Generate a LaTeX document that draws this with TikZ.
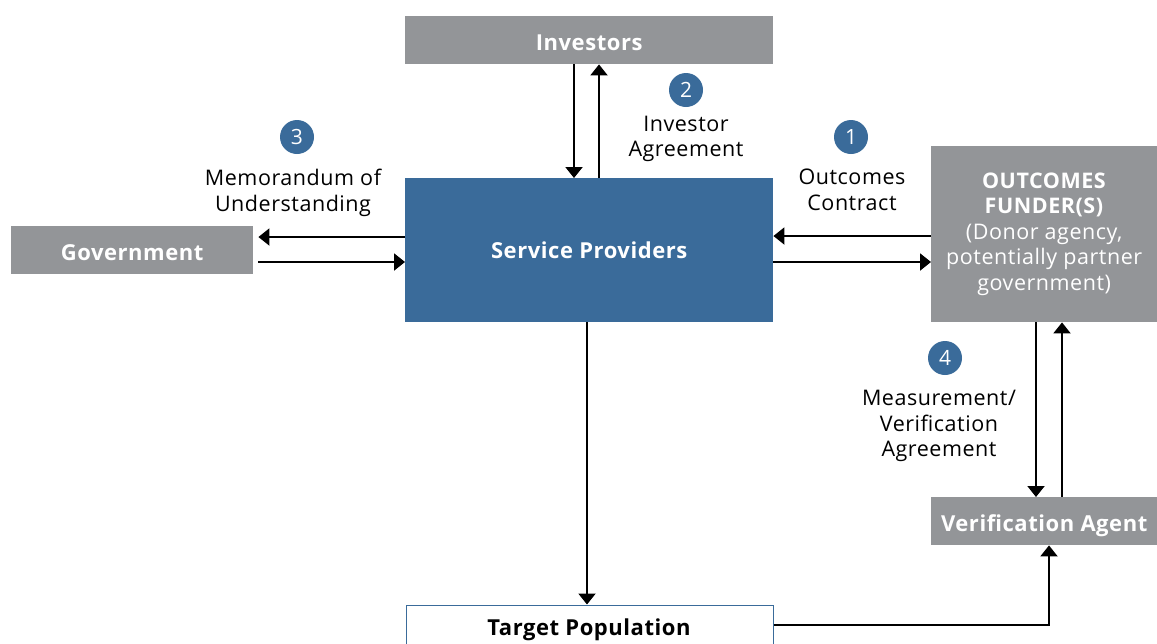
\documentclass[tikz,border=0pt]{standalone}
\usepackage{fontspec}
\setmainfont{Open Sans}[LetterSpace=2.5]
\usetikzlibrary{arrows.meta}
\definecolor{boxgray}{HTML}{939598}
\definecolor{spblue}{HTML}{3A6B9A}
\tikzset{
  graybox/.style={draw=none,fill=boxgray,text=white,font=\fontsize{22}{24}\selectfont\bfseries,inner sep=0pt,anchor=north west},
  lowtext/.style={text height=20pt,text depth=0.3pt},
  num/.style={circle,fill=spblue,text=white,minimum size=34pt,inner sep=0pt,font=\fontsize{21}{24}\selectfont},
  lbl/.style={align=center,font=\fontsize{21.5}{25.5}\selectfont,inner sep=0pt},
  arr/.style={line width=2pt,-{Triangle[width=17pt,length=11pt]}}
}
\begin{document}
\begin{tikzpicture}[x=1pt,y=-1pt]
\useasboundingbox (0,0) rectangle (1157,643);
% boxes
\node[graybox,lowtext,minimum width=368pt,minimum height=48pt] (inv) at (405,16) {Investors};
\node[graybox,fill=spblue,minimum width=368pt,minimum height=144pt] (sp) at (405,178) {Service Providers};
\node[graybox,lowtext,minimum width=242pt,minimum height=48pt] (gov) at (11,226) {Government};
\node[graybox,minimum width=226pt,minimum height=176pt,align=center,font=\fontsize{21.5}{25.5}\selectfont] (of) at (931,146)
  {\textbf{OUTCOMES}\\\textbf{FUNDER(S)}\\(Donor agency,\\potentially partner\\government)};
\node[graybox,lowtext,minimum width=226pt,minimum height=48pt] (va) at (931,497) {Verification Agent};
\node[draw=spblue,line width=1.5pt,fill=white,minimum width=367pt,minimum height=50pt,anchor=north west,inner sep=0pt] (tp) at (405.5,604.5) {};
\node[font=\fontsize{22}{24}\selectfont\bfseries,inner sep=0pt] (tpt) at (589,630) {Target Population};
% number circles
\node[num] (n2) at (686,90) {2};
\node[num] (n3) at (297,137) {3};
\node[num] (n1) at (851,137) {1};
\node[num] (n4) at (945,358) {4};
% labels
\node[lbl,anchor=north] (l2) at (686,115.5) {Investor\\Agreement};
\node[lbl,anchor=north] (l3) at (293,169) {Memorandum of\\Understanding};
\node[lbl,anchor=north] (l1) at (852,169) {Outcomes\\Contract};
\node[lbl,anchor=north] (l4) at (939,390) {Measurement/\\Verification\\Agreement};
% connectors
\draw[arr] (inv.south -| 574,0) -- (sp.north -| 574,0);
\draw[arr] (sp.north -| 599,0) -- (inv.south -| 599,0);
\draw[arr] (sp.west |- 0,237) -- ([xshift=5pt]gov.east |- 0,237);
\draw[arr] ([xshift=5pt]gov.east |- 0,262) -- (sp.west |- 0,262);
\draw[arr] (of.west |- 0,236) -- (sp.east |- 0,236);
\draw[arr] (sp.east |- 0,262) -- (of.west |- 0,262);
\draw[arr] (of.south -| 1036,0) -- (va.north -| 1036,0);
\draw[arr] (va.north -| 1062,0) -- (of.south -| 1062,0);
\draw[arr] (sp.south -| 587,0) -- (tp.north -| 587,0);
\draw[arr] (tp.east |- 0,625) -| (va.south -| 1049,0);
\end{tikzpicture}
\end{document}
